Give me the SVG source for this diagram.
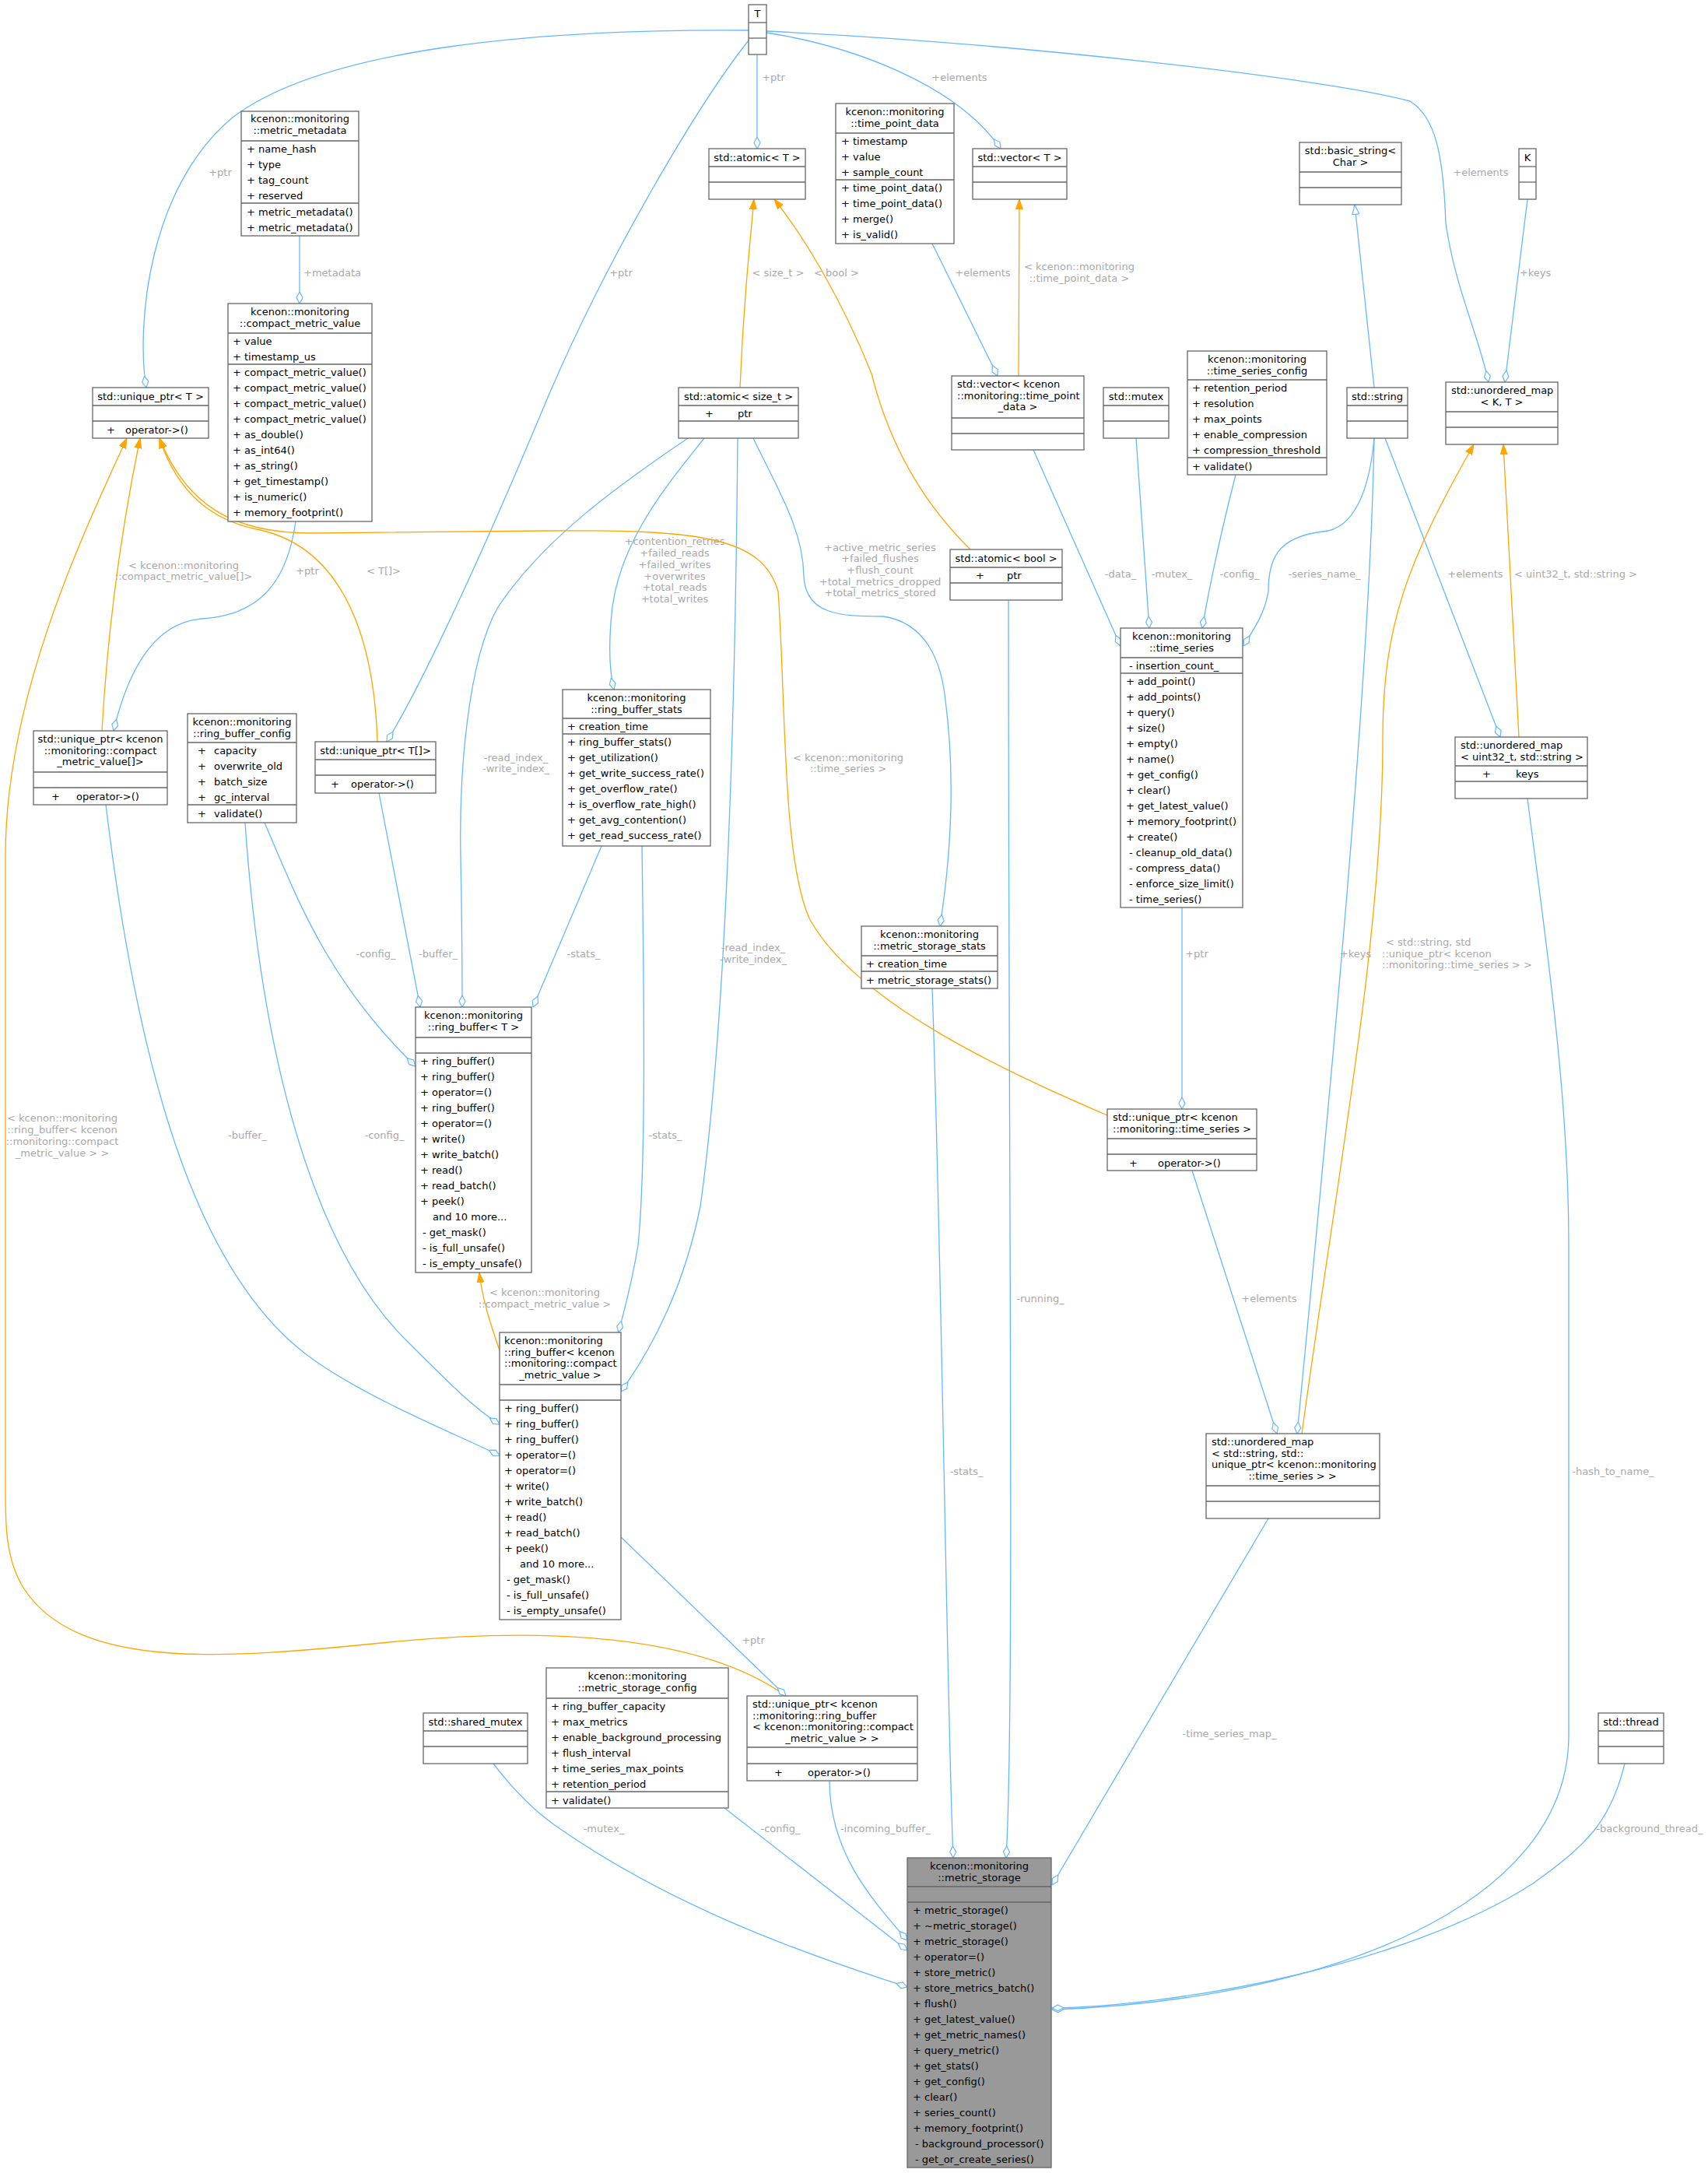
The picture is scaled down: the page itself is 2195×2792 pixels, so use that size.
<svg xmlns="http://www.w3.org/2000/svg" width="2195" height="2792" viewBox="0 0 2195 2792">
<style>
text{font-family:"DejaVu Sans","Liberation Sans",sans-serif;font-size:13px;fill:#000}
.c{text-anchor:middle}
.l{fill:#a8a8a8;text-anchor:middle}
.ls{fill:#a8a8a8}
rect{fill:#fff;stroke:#666;stroke-width:1.3}
.g rect{fill:#999}
line{stroke:#666;stroke-width:1.3}
.e{fill:none;stroke:#63b8ff;stroke-width:1.3;marker-end:url(#dia)}
.o{fill:none;stroke:#ffa500;stroke-width:1.3;marker-end:url(#arr)}
.i{fill:none;stroke:#63b8ff;stroke-width:1.3;marker-end:url(#tri)}
</style>
<defs>
<marker id="dia" markerUnits="userSpaceOnUse" markerWidth="16" markerHeight="10" viewBox="0 0 16 10" refX="15.5" refY="5" orient="auto"><path d="M0.5,5 L8,1 L15.5,5 L8,9 Z" fill="#fff" stroke="#63b8ff" stroke-width="1.2"/></marker>
<marker id="arr" markerUnits="userSpaceOnUse" markerWidth="14" markerHeight="11" viewBox="0 0 14 11" refX="13" refY="5.5" orient="auto"><path d="M0,1 L13,5.5 L0,10 Z" fill="#ffa500" stroke="#ffa500"/></marker>
<marker id="tri" markerUnits="userSpaceOnUse" markerWidth="14" markerHeight="11" viewBox="0 0 14 11" refX="13" refY="5.5" orient="auto"><path d="M0.5,1 L13,5.5 L0.5,10 Z" fill="#fff" stroke="#63b8ff" stroke-width="1.2"/></marker>
</defs>

<g id="edges">
<path class="e" d="M962,39 C700,37 420,60 300,150 C190,240 175,420 188,498"/><text class="l" x="283" y="226">+ptr</text>
<path class="e" d="M962,52 C900,130 780,330 700,520 C600,760 530,900 497,953"/><text class="l" x="798" y="355">+ptr</text>
<path class="e" d="M973,70 L973,191"/><text class="l" x="994" y="104">+ptr</text>
<path class="e" d="M985,42 C1100,60 1230,110 1286,191"/><text class="l" x="1233" y="104">+elements</text>
<path class="e" d="M985,40 C1300,55 1700,100 1812,130 C1845,150 1855,200 1858,287 C1870,370 1900,430 1913,491"/><text class="l" x="1903" y="226">+elements</text>
<path class="e" d="M1963,256 L1934,491"/><text class="l" x="1973" y="355">+keys</text>
<path class="e" d="M385,303 L385,390"/><text class="l" x="427" y="355">+metadata</text>
<path class="o" d="M951,498 C955,400 962,330 969,256"/><text class="l" x="1000" y="355">&lt; size_t &gt;</text>
<path class="o" d="M1247,706 C1180,640 1140,560 1120,480 C1080,380 1030,300 995,256"/><text class="l" x="1075" y="355">&lt; bool &gt;</text>
<path class="o" d="M1309,483 L1310,256"/><text class="l" x="1387" y="347">&lt; kcenon::monitoring</text><text class="l" x="1387" y="362">::time_point_data &gt;</text>
<path class="e" d="M1198,313 L1282,483"/><text class="l" x="1263" y="355">+elements</text>
<path class="i" d="M1766,498 L1741,263"/>
<path class="o" d="M1952,947 L1932,571"/><text class="l" x="2025" y="742">&lt; uint32_t, std::string &gt;</text>
<path class="e" d="M1780,563 L1928,947"/><text class="l" x="1896" y="742">+elements</text>
<path class="e" d="M1766,563 C1760,630 1740,680 1700,683 C1640,690 1630,720 1630,760 C1625,790 1610,810 1598,830"/><text class="l" x="1702" y="742">-series_name_</text>
<path class="e" d="M1588,610 C1570,680 1555,750 1545,807"/><text class="l" x="1593" y="742">-config_</text>
<path class="e" d="M1460,563 L1477,807"/><text class="l" x="1506" y="742">-mutex_</text>
<path class="e" d="M1328,578 L1440,830"/><text class="l" x="1440" y="742">-data_</text>
<path class="e" d="M1519,1166 L1519,1425"/><text class="l" x="1538" y="1230">+ptr</text>
<path class="e" d="M1532,1504 L1641,1842"/><text class="l" x="1631" y="1673">+elements</text>
<path class="e" d="M1766,563 C1760,900 1700,1500 1667,1842"/><text class="l" x="1742" y="1230">+keys</text>
<path class="o" d="M1673,1842 C1720,1500 1777,1200 1777,950 C1777,800 1810,720 1894,571"/><text class="ls" x="1781" y="1215">&lt; std::string, std</text><text class="ls" x="1776" y="1230">::unique_ptr&lt; kcenon</text><text class="ls" x="1776" y="1244">::monitoring::time_series &gt; &gt;</text>
<path class="e" d="M1630,1951 L1352,2422"/><text class="l" x="1580" y="2232">-time_series_map_</text>
<path class="e" d="M1963,1026 C1985,1200 2016,1400 2016,1600 L2016,2230 C2016,2450 1700,2570 1352,2582"/><text class="l" x="2073" y="1895">-hash_to_name_</text>
<path class="e" d="M2088,2266 C2070,2340 2040,2370 1970,2420 C1800,2530 1500,2578 1352,2580"/><text class="l" x="2120" y="2354">-background_thread_</text>
<path class="e" d="M1296,771 C1296,1500 1304,2200 1293,2387"/><text class="l" x="1337" y="1673">-running_</text>
<path class="e" d="M1198,1270 C1210,1600 1217,2200 1225,2387"/><text class="l" x="1242" y="1895">-stats_</text>
<path class="e" d="M968,563 C1000,630 1032,680 1033,740 C1035,790 1080,792 1135,792 C1190,800 1210,850 1215,900 C1228,1000 1222,1100 1208,1190"/>
<text class="l" x="1131" y="708">+active_metric_series</text><text class="l" x="1131" y="722">+failed_flushes</text><text class="l" x="1131" y="737">+flush_count</text><text class="l" x="1131" y="752">+total_metrics_dropped</text><text class="l" x="1131" y="766">+total_metrics_stored</text>
<path class="e" d="M905,563 C860,620 790,700 785,800 C782,840 785,870 789,886"/>
<text class="l" x="867" y="700">+contention_retries</text><text class="l" x="867" y="715">+failed_reads</text><text class="l" x="867" y="730">+failed_writes</text><text class="l" x="867" y="745">+overwrites</text><text class="l" x="867" y="759">+total_reads</text><text class="l" x="867" y="774">+total_writes</text>
<path class="e" d="M884,563 C800,620 700,690 640,780 C600,850 590,1000 592,1100 C594,1200 594,1260 594,1294"/><text class="l" x="663" y="978">-read_index_</text><text class="l" x="663" y="992">-write_index_</text>
<path class="e" d="M948,563 C945,900 935,1300 900,1550 C880,1650 840,1730 798,1788"/><text class="l" x="968" y="1222">-read_index_</text><text class="l" x="968" y="1237">-write_index_</text>
<path class="e" d="M773,1087 L685,1294"/><text class="l" x="750" y="1230">-stats_</text>
<path class="e" d="M825,1087 C828,1300 830,1500 820,1600 C810,1660 800,1690 795,1712"/><text class="l" x="855" y="1463">-stats_</text>
<path class="e" d="M340,1057 C380,1150 420,1260 534,1370"/><text class="l" x="483" y="1230">-config_</text>
<path class="e" d="M315,1057 C335,1350 400,1600 520,1720 C580,1780 610,1810 642,1830"/><text class="l" x="494" y="1463">-config_</text>
<path class="e" d="M487,1019 L540,1294"/><text class="l" x="563" y="1230">-buffer_</text>
<path class="e" d="M136,1034 C180,1400 260,1650 407,1750 C480,1800 580,1840 642,1870"/><text class="l" x="318" y="1463">-buffer_</text>
<path class="e" d="M380,670 C370,740 340,790 260,795 C190,800 160,880 146,939"/><text class="l" x="395" y="738">+ptr</text>
<path class="o" d="M131,939 C140,780 160,660 180,563"/><text class="l" x="236" y="731">&lt; kcenon::monitoring</text><text class="l" x="236" y="745">::compact_metric_value[]&gt;</text>
<path class="o" d="M485,953 C480,800 430,700 330,680 C280,670 230,640 205,563"/><text class="l" x="493" y="738">&lt; T[]&gt;</text>
<path class="o" d="M1423,1433 C1300,1380 1100,1290 1040,1180 C1005,1100 1010,900 1000,760 C980,690 900,680 700,682 L400,685 C300,685 240,650 205,563"/><text class="l" x="1090" y="978">&lt; kcenon::monitoring</text><text class="l" x="1090" y="992">::time_series &gt;</text>
<path class="o" d="M1010,2179 C900,2100 700,2090 500,2110 C300,2130 100,2150 30,2040 C5,2000 7,1950 7,1900 L7,1100 C7,900 100,700 163,563"/>
<text class="l" x="80" y="1441">&lt; kcenon::monitoring</text><text class="l" x="80" y="1456">::ring_buffer&lt; kcenon</text><text class="l" x="80" y="1471">::monitoring::compact</text><text class="l" x="80" y="1486">_metric_value &gt; &gt;</text>
<path class="o" d="M642,1735 C630,1700 620,1670 616,1635"/><text class="l" x="700" y="1665">&lt; kcenon::monitoring</text><text class="l" x="700" y="1680">::compact_metric_value &gt;</text>
<path class="e" d="M798,1975 L1010,2179"/><text class="l" x="968" y="2112">+ptr</text>
<path class="e" d="M634,2266 C660,2300 690,2330 720,2350 C850,2440 1000,2500 1166,2553"/><text class="l" x="776" y="2354">-mutex_</text>
<path class="e" d="M931,2323 L1166,2506"/><text class="l" x="1003" y="2354">-config_</text>
<path class="e" d="M1066,2288 C1066,2380 1120,2440 1166,2493"/><text class="l" x="1138" y="2354">-incoming_buffer_</text>
</g>

<g id="T"><rect x="962" y="6" width="23" height="64"/><line x1="962" y1="29" x2="985" y2="29"/><line x1="962" y1="49" x2="985" y2="49"/><text class="c" x="973.5" y="22">T</text></g>

<g id="metric_metadata"><rect x="310" y="143" width="151" height="160"/><line x1="310" y1="181" x2="461" y2="181"/><line x1="310" y1="261" x2="461" y2="261"/>
<text class="c" x="385.5" y="157">kcenon::monitoring</text><text class="c" x="385.5" y="171.5">::metric_metadata</text>
<text x="317" y="196">+ name_hash</text><text x="317" y="216">+ type</text><text x="317" y="236">+ tag_count</text><text x="317" y="256">+ reserved</text>
<text x="317" y="277">+ metric_metadata()</text><text x="317" y="297">+ metric_metadata()</text></g>

<g id="compact_metric_value"><rect x="293" y="390" width="185" height="280"/><line x1="293" y1="428" x2="478" y2="428"/><line x1="293" y1="468" x2="478" y2="468"/>
<text class="c" x="385.5" y="405">kcenon::monitoring</text><text class="c" x="385.5" y="419.5">::compact_metric_value</text>
<text x="299" y="443">+ value</text><text x="299" y="463">+ timestamp_us</text>
<text x="299" y="483">+ compact_metric_value()</text><text x="299" y="503">+ compact_metric_value()</text><text x="299" y="523">+ compact_metric_value()</text><text x="299" y="543">+ compact_metric_value()</text><text x="299" y="563">+ as_double()</text><text x="299" y="583">+ as_int64()</text><text x="299" y="603">+ as_string()</text><text x="299" y="623">+ get_timestamp()</text><text x="299" y="643">+ is_numeric()</text><text x="299" y="663">+ memory_footprint()</text></g>

<g id="unique_ptr_T"><rect x="119" y="498" width="149" height="65"/><line x1="119" y1="521" x2="268" y2="521"/><line x1="119" y1="541" x2="268" y2="541"/>
<text class="c" x="193.5" y="514">std::unique_ptr&lt; T &gt;</text><text x="137" y="557">+</text><text x="161" y="557">operator-&gt;()</text></g>

<g id="atomic_T"><rect x="911" y="191" width="124" height="65"/><line x1="911" y1="214" x2="1035" y2="214"/><line x1="911" y1="234" x2="1035" y2="234"/><text class="c" x="973" y="207">std::atomic&lt; T &gt;</text></g>

<g id="atomic_size_t"><rect x="872" y="498" width="154" height="65"/><line x1="872" y1="521" x2="1026" y2="521"/><line x1="872" y1="541" x2="1026" y2="541"/>
<text class="c" x="949" y="514">std::atomic&lt; size_t &gt;</text><text x="906" y="536">+</text><text x="948" y="536">ptr</text></g>

<g id="time_point_data"><rect x="1074" y="133" width="152" height="180"/><line x1="1074" y1="171" x2="1226" y2="171"/><line x1="1074" y1="231" x2="1226" y2="231"/>
<text class="c" x="1150" y="148">kcenon::monitoring</text><text class="c" x="1150" y="162.5">::time_point_data</text>
<text x="1081" y="186">+ timestamp</text><text x="1081" y="206">+ value</text><text x="1081" y="226">+ sample_count</text>
<text x="1081" y="246">+ time_point_data()</text><text x="1081" y="266">+ time_point_data()</text><text x="1081" y="286">+ merge()</text><text x="1081" y="306">+ is_valid()</text></g>

<g id="vector_T"><rect x="1250" y="191" width="121" height="65"/><line x1="1250" y1="214" x2="1371" y2="214"/><line x1="1250" y1="234" x2="1371" y2="234"/><text class="c" x="1310.5" y="207">std::vector&lt; T &gt;</text></g>

<g id="basic_string"><rect x="1670" y="183" width="131" height="80"/><line x1="1670" y1="221" x2="1801" y2="221"/><line x1="1670" y1="241" x2="1801" y2="241"/><text class="c" x="1735.5" y="198">std::basic_string&lt;</text><text class="c" x="1735.5" y="212.5">Char &gt;</text></g>

<g id="K"><rect x="1952" y="191" width="22" height="65"/><line x1="1952" y1="214" x2="1974" y2="214"/><line x1="1952" y1="234" x2="1974" y2="234"/><text class="c" x="1963" y="207">K</text></g>

<g id="vector_tpd"><rect x="1223" y="483" width="170" height="95"/><line x1="1223" y1="537" x2="1393" y2="537"/><line x1="1223" y1="557" x2="1393" y2="557"/>
<text x="1230" y="498">std::vector&lt; kcenon</text><text x="1230" y="512.5">::monitoring::time_point</text><text class="c" x="1308" y="527">_data &gt;</text></g>

<g id="mutex"><rect x="1418" y="498" width="84" height="65"/><line x1="1418" y1="521" x2="1502" y2="521"/><line x1="1418" y1="541" x2="1502" y2="541"/><text class="c" x="1460" y="514">std::mutex</text></g>

<g id="time_series_config"><rect x="1526" y="451" width="179" height="159"/><line x1="1526" y1="488" x2="1705" y2="488"/><line x1="1526" y1="588" x2="1705" y2="588"/>
<text class="c" x="1615.5" y="466">kcenon::monitoring</text><text class="c" x="1615.5" y="480.5">::time_series_config</text>
<text x="1532" y="503">+ retention_period</text><text x="1532" y="523">+ resolution</text><text x="1532" y="543">+ max_points</text><text x="1532" y="563">+ enable_compression</text><text x="1532" y="583">+ compression_threshold</text><text x="1532" y="604">+ validate()</text></g>

<g id="string"><rect x="1731" y="498" width="78" height="65"/><line x1="1731" y1="521" x2="1809" y2="521"/><line x1="1731" y1="541" x2="1809" y2="541"/><text class="c" x="1770" y="514">std::string</text></g>

<g id="unordered_map_KT"><rect x="1858" y="491" width="144" height="80"/><line x1="1858" y1="529" x2="2002" y2="529"/><line x1="1858" y1="549" x2="2002" y2="549"/><text x="1865" y="506">std::unordered_map</text><text class="c" x="1930" y="520.5">&lt; K, T &gt;</text></g>

<g id="atomic_bool"><rect x="1221" y="706" width="144" height="65"/><line x1="1221" y1="729" x2="1365" y2="729"/><line x1="1221" y1="749" x2="1365" y2="749"/>
<text class="c" x="1293" y="722">std::atomic&lt; bool &gt;</text><text x="1254" y="744">+</text><text x="1294" y="744">ptr</text></g>

<g id="time_series"><rect x="1440" y="807" width="157" height="359"/><line x1="1440" y1="845" x2="1597" y2="845"/><line x1="1440" y1="865" x2="1597" y2="865"/>
<text class="c" x="1518.5" y="822">kcenon::monitoring</text><text class="c" x="1518.5" y="836.5">::time_series</text>
<text x="1451" y="860">-  insertion_count_</text>
<text x="1447" y="880">+ add_point()</text><text x="1447" y="900">+ add_points()</text><text x="1447" y="920">+ query()</text><text x="1447" y="940">+ size()</text><text x="1447" y="960">+ empty()</text><text x="1447" y="980">+ name()</text><text x="1447" y="1000">+ get_config()</text><text x="1447" y="1020">+ clear()</text><text x="1447" y="1040">+ get_latest_value()</text><text x="1447" y="1060">+ memory_footprint()</text><text x="1447" y="1080">+ create()</text>
<text x="1451" y="1100">-  cleanup_old_data()</text><text x="1451" y="1120">-  compress_data()</text><text x="1451" y="1140">-  enforce_size_limit()</text><text x="1451" y="1160">-  time_series()</text></g>

<g id="unique_ptr_cmv_arr"><rect x="43" y="939" width="172" height="95"/><line x1="43" y1="992" x2="215" y2="992"/><line x1="43" y1="1012" x2="215" y2="1012"/>
<text class="c" x="129" y="954">std::unique_ptr&lt; kcenon</text><text class="c" x="129" y="968.5">::monitoring::compact</text><text class="c" x="129" y="983">_metric_value[]&gt;</text><text x="66" y="1028">+</text><text x="98" y="1028">operator-&gt;()</text></g>

<g id="ring_buffer_config"><rect x="241" y="917" width="140" height="140"/><line x1="241" y1="954" x2="381" y2="954"/><line x1="241" y1="1034" x2="381" y2="1034"/>
<text class="c" x="311" y="932">kcenon::monitoring</text><text class="c" x="311" y="946.5">::ring_buffer_config</text>
<text x="254" y="969">+</text><text x="275" y="969">capacity</text><text x="254" y="989">+</text><text x="275" y="989">overwrite_old</text><text x="254" y="1009">+</text><text x="275" y="1009">batch_size</text><text x="254" y="1029">+</text><text x="275" y="1029">gc_interval</text><text x="254" y="1050">+</text><text x="275" y="1050">validate()</text></g>

<g id="unique_ptr_T_arr"><rect x="405" y="953" width="155" height="66"/><line x1="405" y1="976" x2="560" y2="976"/><line x1="405" y1="996" x2="560" y2="996"/>
<text class="c" x="482.5" y="969">std::unique_ptr&lt; T[]&gt;</text><text x="425" y="1012">+</text><text x="451" y="1012">operator-&gt;()</text></g>

<g id="ring_buffer_stats"><rect x="723" y="886" width="190" height="201"/><line x1="723" y1="923" x2="913" y2="923"/><line x1="723" y1="943" x2="913" y2="943"/>
<text class="c" x="818" y="901">kcenon::monitoring</text><text class="c" x="818" y="915.5">::ring_buffer_stats</text>
<text x="729" y="938">+ creation_time</text>
<text x="729" y="958">+ ring_buffer_stats()</text><text x="729" y="978">+ get_utilization()</text><text x="729" y="998">+ get_write_success_rate()</text><text x="729" y="1018">+ get_overflow_rate()</text><text x="729" y="1038">+ is_overflow_rate_high()</text><text x="729" y="1058">+ get_avg_contention()</text><text x="729" y="1078">+ get_read_success_rate()</text></g>

<g id="ring_buffer_T"><rect x="534" y="1294" width="149" height="341"/><line x1="534" y1="1333" x2="683" y2="1333"/><line x1="534" y1="1353" x2="683" y2="1353"/>
<text class="c" x="608.5" y="1309">kcenon::monitoring</text><text class="c" x="608.5" y="1323.5">::ring_buffer&lt; T &gt;</text>
<text x="540" y="1368">+ ring_buffer()</text><text x="540" y="1388">+ ring_buffer()</text><text x="540" y="1408">+ operator=()</text><text x="540" y="1428">+ ring_buffer()</text><text x="540" y="1448">+ operator=()</text><text x="540" y="1468">+ write()</text><text x="540" y="1488">+ write_batch()</text><text x="540" y="1508">+ read()</text><text x="540" y="1528">+ read_batch()</text><text x="540" y="1548">+ peek()</text><text x="556" y="1568">and 10 more...</text>
<text x="543" y="1588">-  get_mask()</text><text x="543" y="1608">-  is_full_unsafe()</text><text x="543" y="1628">-  is_empty_unsafe()</text></g>

<g id="ring_buffer_cmv"><rect x="642" y="1712" width="156" height="369"/><line x1="642" y1="1779" x2="798" y2="1779"/><line x1="642" y1="1799" x2="798" y2="1799"/>
<text x="648" y="1727">kcenon::monitoring</text><text x="648" y="1741.5">::ring_buffer&lt; kcenon</text><text x="648" y="1756">::monitoring::compact</text><text class="c" x="720" y="1770.5">_metric_value &gt;</text>
<text x="648" y="1814">+ ring_buffer()</text><text x="648" y="1834">+ ring_buffer()</text><text x="648" y="1854">+ ring_buffer()</text><text x="648" y="1874">+ operator=()</text><text x="648" y="1894">+ operator=()</text><text x="648" y="1914">+ write()</text><text x="648" y="1934">+ write_batch()</text><text x="648" y="1954">+ read()</text><text x="648" y="1974">+ read_batch()</text><text x="648" y="1994">+ peek()</text><text x="668" y="2014">and 10 more...</text>
<text x="651" y="2034">-  get_mask()</text><text x="651" y="2054">-  is_full_unsafe()</text><text x="651" y="2074">-  is_empty_unsafe()</text></g>

<g id="metric_storage_stats"><rect x="1107" y="1190" width="175" height="80"/><line x1="1107" y1="1228" x2="1282" y2="1228"/><line x1="1107" y1="1248" x2="1282" y2="1248"/>
<text class="c" x="1194.5" y="1205">kcenon::monitoring</text><text class="c" x="1194.5" y="1219.5">::metric_storage_stats</text>
<text x="1113" y="1243">+ creation_time</text><text x="1113" y="1264">+ metric_storage_stats()</text></g>

<g id="unordered_map_u32_str"><rect x="1870" y="947" width="170" height="79"/><line x1="1870" y1="984" x2="2040" y2="984"/><line x1="1870" y1="1004" x2="2040" y2="1004"/>
<text x="1877" y="962">std::unordered_map</text><text x="1877" y="976.5">&lt; uint32_t, std::string &gt;</text><text x="1905" y="999">+</text><text x="1948" y="999">keys</text></g>

<g id="unique_ptr_time_series"><rect x="1423" y="1425" width="192" height="79"/><line x1="1423" y1="1463" x2="1615" y2="1463"/><line x1="1423" y1="1483" x2="1615" y2="1483"/>
<text x="1430" y="1440">std::unique_ptr&lt; kcenon</text><text x="1430" y="1454.5">::monitoring::time_series &gt;</text><text x="1451" y="1499">+</text><text x="1488" y="1499">operator-&gt;()</text></g>

<g id="unordered_map_str_ts"><rect x="1550" y="1842" width="223" height="109"/><line x1="1550" y1="1909" x2="1773" y2="1909"/><line x1="1550" y1="1929" x2="1773" y2="1929"/>
<text x="1557" y="1857">std::unordered_map</text><text x="1557" y="1871.5">&lt; std::string, std::</text><text x="1557" y="1886">unique_ptr&lt; kcenon::monitoring</text><text class="c" x="1661" y="1900.5">::time_series &gt; &gt;</text></g>

<g id="shared_mutex"><rect x="544" y="2201" width="134" height="65"/><line x1="544" y1="2224" x2="678" y2="2224"/><line x1="544" y1="2244" x2="678" y2="2244"/><text class="c" x="611" y="2217">std::shared_mutex</text></g>

<g id="metric_storage_config"><rect x="702" y="2143" width="234" height="180"/><line x1="702" y1="2182" x2="936" y2="2182"/><line x1="702" y1="2302" x2="936" y2="2302"/>
<text class="c" x="819" y="2158">kcenon::monitoring</text><text class="c" x="819" y="2172.5">::metric_storage_config</text>
<text x="708" y="2197">+ ring_buffer_capacity</text><text x="708" y="2217">+ max_metrics</text><text x="708" y="2237">+ enable_background_processing</text><text x="708" y="2257">+ flush_interval</text><text x="708" y="2277">+ time_series_max_points</text><text x="708" y="2297">+ retention_period</text><text x="708" y="2318">+ validate()</text></g>

<g id="unique_ptr_ring_buffer"><rect x="960" y="2179" width="219" height="109"/><line x1="960" y1="2245" x2="1179" y2="2245"/><line x1="960" y1="2266" x2="1179" y2="2266"/>
<text x="967" y="2194">std::unique_ptr&lt; kcenon</text><text x="967" y="2208.5">::monitoring::ring_buffer</text><text x="967" y="2223">&lt; kcenon::monitoring::compact</text><text class="c" x="1069.5" y="2237.5">_metric_value &gt; &gt;</text>
<text x="995" y="2282">+</text><text x="1038" y="2282">operator-&gt;()</text></g>

<g id="thread"><rect x="2054" y="2201" width="84" height="65"/><line x1="2054" y1="2224" x2="2138" y2="2224"/><line x1="2054" y1="2244" x2="2138" y2="2244"/><text class="c" x="2096" y="2217">std::thread</text></g>

<g id="metric_storage" class="g"><rect x="1166" y="2387" width="185" height="398"/><line x1="1166" y1="2424" x2="1351" y2="2424"/><line x1="1166" y1="2444" x2="1351" y2="2444"/>
<text class="c" x="1258.5" y="2402">kcenon::monitoring</text><text class="c" x="1258.5" y="2416.5">::metric_storage</text>
<text x="1173" y="2459">+ metric_storage()</text><text x="1173" y="2479">+ ~metric_storage()</text><text x="1173" y="2499">+ metric_storage()</text><text x="1173" y="2519">+ operator=()</text><text x="1173" y="2539">+ store_metric()</text><text x="1173" y="2559">+ store_metrics_batch()</text><text x="1173" y="2579">+ flush()</text><text x="1173" y="2599">+ get_latest_value()</text><text x="1173" y="2619">+ get_metric_names()</text><text x="1173" y="2639">+ query_metric()</text><text x="1173" y="2659">+ get_stats()</text><text x="1173" y="2679">+ get_config()</text><text x="1173" y="2699">+ clear()</text><text x="1173" y="2719">+ series_count()</text><text x="1173" y="2739">+ memory_footprint()</text>
<text x="1176" y="2759">-  background_processor()</text><text x="1176" y="2779">-  get_or_create_series()</text></g>
</svg>
